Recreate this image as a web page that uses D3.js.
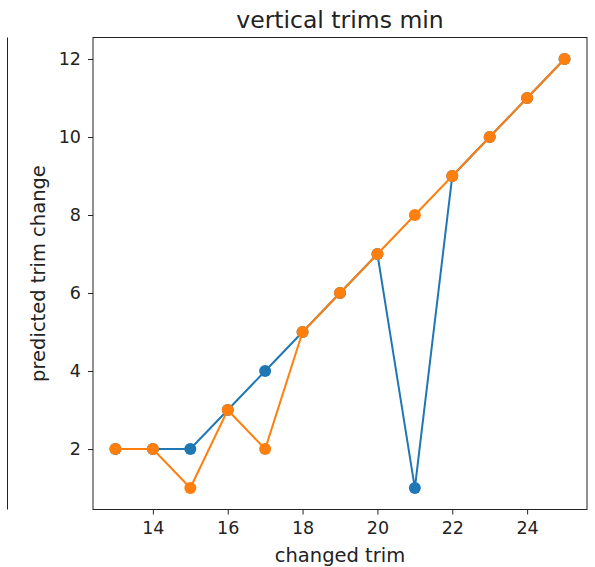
<!DOCTYPE html>
<html>
<head>
<meta charset="utf-8">
<script src="https://cdn.jsdelivr.net/npm/d3@7.9.0/dist/d3.min.js"></script>
<style>
  body { margin: 0; background: #fff; }
  svg text { font-family: "DejaVu Sans", sans-serif; }
</style>
</head>
<body>
<svg id="chart" width="595" height="567"></svg>
<script>
// data
const changedTrim = [13, 14, 15, 16, 17, 18, 19, 20, 21, 22, 23, 24, 25];
const blueSeries = [2, 2, 2, 3, 4, 5, 6, 7, 1, 9, 10, 11, 12];
const orangeSeries = [2, 2, 1, 3, 2, 5, 6, 7, 8, 9, 10, 11, 12];
const xTicks = [14, 16, 18, 20, 22, 24];
const yTicks = [2, 4, 6, 8, 10, 12];

const svg = d3.select('#chart');

// plot box
const plotLeft = 93, plotRight = 587, plotTop = 37.5, plotBottom = 509.5;

const x = d3.scaleLinear().domain([12.4, 25.6]).range([plotLeft, plotRight]);
const y = d3.scaleLinear().domain([0.45, 12.55]).range([plotBottom, plotTop]);

// --- leftover frame of neighbouring subplot ---
svg.append('line')
  .attr('x1', 7.5).attr('x2', 7.5)
  .attr('y1', plotTop).attr('y2', plotBottom)
  .attr('stroke', '#222').attr('stroke-width', 1);

// --- axes ---
const xAxis = svg.append('g')
  .attr('transform', `translate(0,${plotBottom})`)
  .call(d3.axisBottom(x).tickValues(xTicks).tickSize(5).tickPadding(7));

const yAxis = svg.append('g')
  .attr('transform', `translate(${plotLeft},0)`)
  .call(d3.axisLeft(y).tickValues(yTicks).tickSize(5).tickPadding(7));

[xAxis, yAxis].forEach(g => {
  g.attr('font-size', 17.5).attr('font-family', null);
  g.select('.domain').remove();
  g.selectAll('line').attr('stroke', '#222');
  g.selectAll('text').attr('fill', '#222').attr('font-size', 17.5);
});

// frame
svg.append('rect')
  .attr('x', plotLeft).attr('y', plotTop)
  .attr('width', plotRight - plotLeft).attr('height', plotBottom - plotTop)
  .attr('fill', 'none').attr('stroke', '#222').attr('stroke-width', 1);

// --- series ---
const line = d3.line()
  .x((d, i) => x(changedTrim[i]))
  .y(d => y(d));

const series = [
  { values: blueSeries, color: '#1f77b4' },
  { values: orangeSeries, color: '#ff7f0e' },
];

series.forEach(s => {
  svg.append('path')
    .datum(s.values)
    .attr('d', line)
    .attr('fill', 'none')
    .attr('stroke', s.color)
    .attr('stroke-width', 2);

  svg.append('g')
    .selectAll('circle')
    .data(s.values)
    .enter()
    .append('circle')
    .attr('cx', (d, i) => x(changedTrim[i]))
    .attr('cy', d => y(d))
    .attr('r', 6)
    .attr('fill', s.color);
});

// --- labels ---
svg.append('text')
  .attr('x', (plotLeft + plotRight) / 2).attr('y', 28)
  .attr('text-anchor', 'middle')
  .attr('font-size', 23.5).attr('fill', '#222')
  .text('vertical trims min');

svg.append('text')
  .attr('x', (plotLeft + plotRight) / 2).attr('y', 562)
  .attr('text-anchor', 'middle')
  .attr('font-size', 19.5).attr('fill', '#222')
  .text('changed trim');

svg.append('text')
  .attr('transform', `translate(45,${(plotTop + plotBottom) / 2}) rotate(-90)`)
  .attr('text-anchor', 'middle')
  .attr('font-size', 19.5).attr('fill', '#222')
  .text('predicted trim change');
</script>
</body>
</html>
